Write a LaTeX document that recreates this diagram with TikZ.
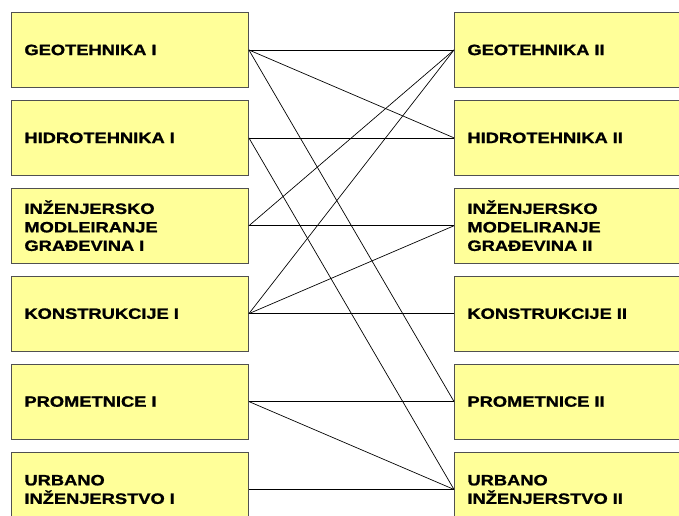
\documentclass[tikz,border=0pt]{standalone}
\usepackage{fontspec}
\setmainfont{Liberation Sans}
\newfontfamily\boxfont[FakeStretch=1.22,FakeBold=1.2]{Liberation Sans Bold}
\usetikzlibrary{positioning}

\definecolor{boxfill}{HTML}{FFFF99}
\definecolor{boxline}{HTML}{505050}

\begin{document}
\begin{tikzpicture}[node distance={12pt}, line width=0.7pt,
    main/.style = {draw=boxline, line width=0.9pt, fill=boxfill, rectangle,
      minimum width=237pt, minimum height=75pt, text width=211pt,
      inner xsep=13pt, align=left, anchor=north west,
      font=\boxfont\fontsize{15}{18.5}\selectfont}]
    \useasboundingbox (0,0) rectangle (679pt,-515pt);
    \clip (0,0) rectangle (679pt,-515pt);

    \node[main] (G1) at (11pt,-12pt) {GEOTEHNIKA I};
    \node[main] (H1) [below = of G1] {HIDROTEHNIKA I};
    \node[main] (M1) [below = of H1] {INŽENJERSKO\\MODLEIRANJE\\GRAĐEVINA I};
    \node[main] (K1) [below = of M1] {KONSTRUKCIJE I};
    \node[main] (P1) [below = of K1] {PROMETNICE I};
    \node[main] (U1) [below = of P1] {URBANO\\INŽENJERSTVO I};

    \node[main] (G2) at (454pt,-12pt) {GEOTEHNIKA II};
    \node[main] (H2) [below = of G2] {HIDROTEHNIKA II};
    \node[main] (M2) [below = of H2] {INŽENJERSKO\\MODELIRANJE\\GRAĐEVINA II};
    \node[main] (K2) [below = of M2] {KONSTRUKCIJE II};
    \node[main] (P2) [below = of K2] {PROMETNICE II};
    \node[main] (U2) [below = of P2] {URBANO\\INŽENJERSTVO II};

    \draw (G1.east) -- (G2.west);
    \draw (G1.east) -- (H2.west);
    \draw (G1.east) -- (P2.west);
    \draw (H1.east) -- (H2.west);
    \draw (H1.east) -- (U2.west);
    \draw (M1.east) -- (M2.west);
    \draw (M1.east) -- (G2.west);
    \draw (K1.east) -- (K2.west);
    \draw (K1.east) -- (G2.west);
    \draw (K1.east) -- (M2.west);
    \draw (P1.east) -- (P2.west);
    \draw (P1.east) -- (U2.west);
    \draw (U1.east) -- (U2.west);
\end{tikzpicture}
\end{document}
